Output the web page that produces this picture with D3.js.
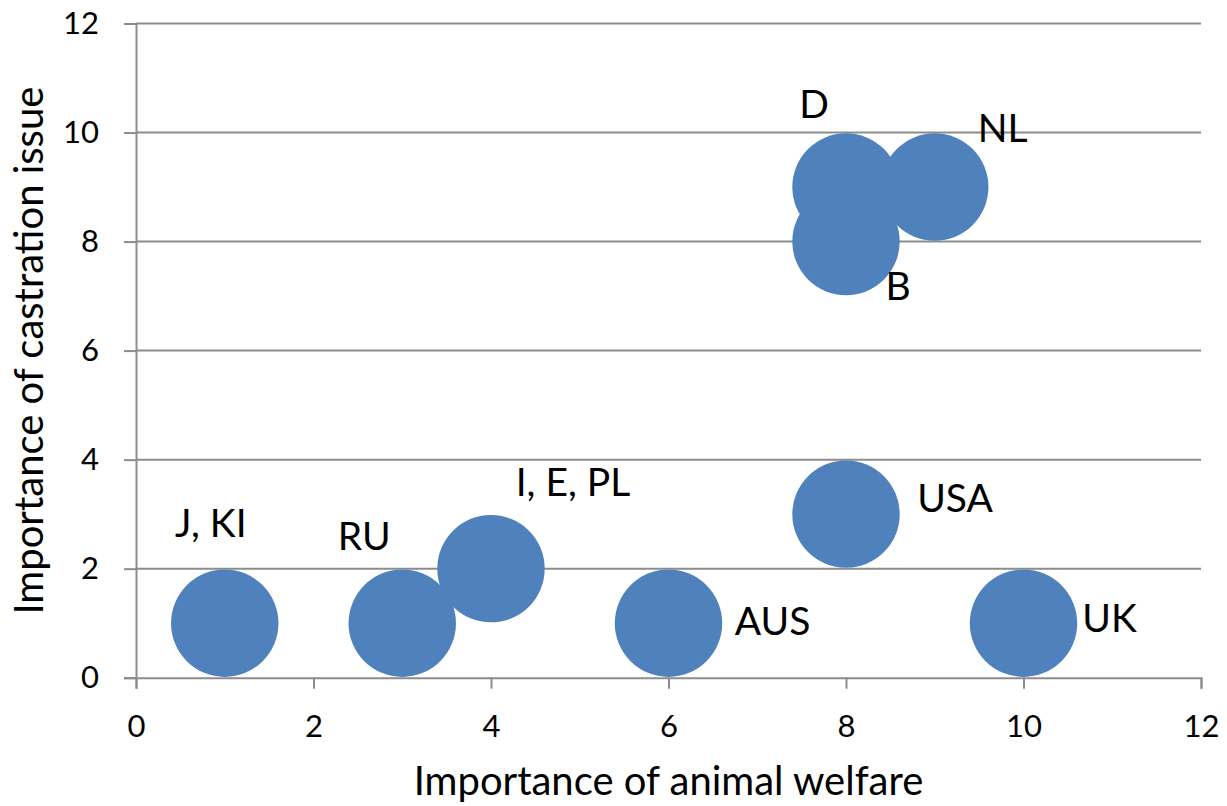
<!DOCTYPE html>
<html>
<head>
<meta charset="utf-8">
<script src="https://cdn.jsdelivr.net/npm/d3@7"></script>
<style>
  html, body { margin: 0; padding: 0; background: #fff; }
  svg text { font-family: Lato, "Open Sans", sans-serif; fill: #000; }
</style>
</head>
<body>
<svg id="chart" width="1227" height="806"></svg>
<script>
// ---- data ----
const countries = ["J, KI", "RU", "I, E, PL", "AUS", "USA", "UK", "D", "NL", "B"];
const animalWelfare = [1, 3, 4, 6, 8, 10, 8, 9, 8];
const castrationIssue = [1, 1, 2, 1, 3, 1, 9, 9, 8];
const bubbleSize = [1, 1, 1, 1, 1, 1, 1, 1, 1];
const xTicks = [0, 2, 4, 6, 8, 10, 12];
const yTicks = [0, 2, 4, 6, 8, 10, 12];
const xTitle = "Importance of animal welfare";
const yTitle = "Importance of castration issue";

// label placement (offset of label centre from bubble centre, px)
const labelOffsets = [[-14, -101], [-38, -88], [82, -88], [104, -3], [109, -17], [86, -6], [-32, -84], [68, -60], [52, 43]];

// ---- layout ----
const W = 1227, H = 806;
const plot = { left: 136, right: 1201, top: 23.5, bottom: 677.7 };
const gridColor = "#8c8c8c";
const bubbleColor = "#4f81bd";

const svg = d3.select("#chart");

const x = d3.scaleLinear().domain([0, 12]).range([plot.left, plot.right]);
const y = d3.scaleLinear().domain([0, 12]).range([plot.bottom, plot.top]);
const r = d3.scaleSqrt().domain([0, 1]).range([0, 53.7]);

const data = countries.map((c, i) => ({
  name: c, x: animalWelfare[i], y: castrationIssue[i], s: bubbleSize[i], off: labelOffsets[i]
}));

// gridlines (horizontal)
svg.append("g")
  .selectAll("line")
  .data(yTicks.filter(d => d !== 0))
  .join("line")
  .attr("x1", plot.left).attr("x2", plot.right)
  .attr("y1", d => y(d)).attr("y2", d => y(d))
  .attr("stroke", gridColor).attr("stroke-width", 2);

// y axis
const yAxis = svg.append("g")
  .attr("transform", `translate(${plot.left},0)`)
  .call(d3.axisLeft(y).tickValues(yTicks).tickSize(12).tickPadding(25).tickFormat(d3.format("d")));
yAxis.select(".domain").attr("stroke", gridColor).attr("stroke-width", 2);
yAxis.selectAll(".tick line").attr("stroke", gridColor).attr("stroke-width", 2);
yAxis.selectAll(".tick text").attr("font-size", 31).attr("font-family", "Lato").attr("fill", "#000");

// x axis
const xAxis = svg.append("g")
  .attr("transform", `translate(0,${plot.bottom})`)
  .call(d3.axisBottom(x).tickValues(xTicks).tickSize(11).tickPadding(26).tickFormat(d3.format("d")));
xAxis.select(".domain").attr("stroke", gridColor).attr("stroke-width", 2);
xAxis.selectAll(".tick line").attr("stroke", gridColor).attr("stroke-width", 2);
xAxis.selectAll(".tick text").attr("font-size", 31).attr("font-family", "Lato").attr("fill", "#000");

// bubbles
svg.append("g")
  .selectAll("circle")
  .data(data)
  .join("circle")
  .attr("cx", d => x(d.x))
  .attr("cy", d => y(d.y))
  .attr("r", d => r(d.s))
  .attr("fill", bubbleColor);

// labels
svg.append("g")
  .selectAll("text")
  .data(data)
  .join("text")
  .attr("x", d => x(d.x) + d.off[0])
  .attr("y", d => y(d.y) + d.off[1])
  .attr("text-anchor", "middle")
  .attr("dominant-baseline", "central")
  .attr("font-size", 39)
  .text(d => d.name);

// axis titles
svg.append("text")
  .attr("x", (plot.left + plot.right) / 2)
  .attr("y", 795)
  .attr("text-anchor", "middle")
  .attr("font-size", 40)
  .text(xTitle);

svg.append("text")
  .attr("transform", `translate(43,${(plot.top + plot.bottom) / 2}) rotate(-90)`)
  .attr("text-anchor", "middle")
  .attr("font-size", 40)
  .text(yTitle);
</script>
</body>
</html>
